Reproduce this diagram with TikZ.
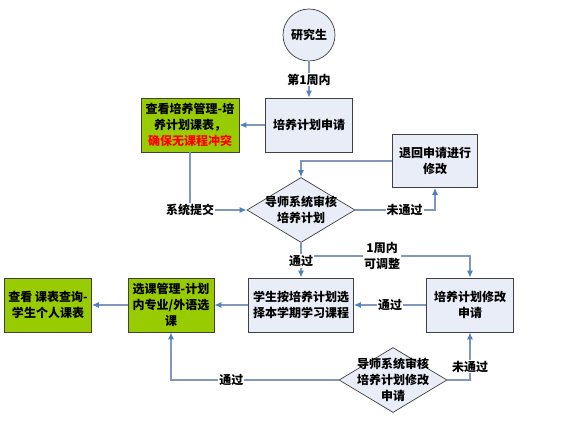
\documentclass[tikz,border=0pt]{standalone}
\usepackage{fontspec}
\setmainfont{Noto Sans CJK SC}
\usetikzlibrary{arrows.meta,shapes.geometric}

% colours taken from the flow chart
\definecolor{boxfill}{RGB}{233,237,247}
\definecolor{boxline}{RGB}{64,64,64}
\definecolor{flowline}{RGB}{128,152,190}
\definecolor{arrowblue}{RGB}{79,129,189}
\definecolor{greenfill}{RGB}{153,204,0}

\begin{document}
\begin{tikzpicture}[x=1pt, y=-1pt,
  every node/.style={font=\fontsize{12}{16}\selectfont\bfseries},
  flowbox/.style={draw=boxline, line width=0.9pt, fill=boxfill, align=center,
    minimum width=87pt, minimum height=54pt, inner sep=1pt},
  greenbox/.style={flowbox, fill=greenfill},
  decision/.style={diamond, draw=boxline, line width=0.7pt, fill=boxfill,
    minimum width=108pt, minimum height=65pt, inner sep=0pt},
  flow/.style={draw=flowline, line width=1.1pt,
    -{Latex[length=7pt, width=6pt, color=arrowblue]}},
  tag/.style={fill=white, inner sep=1pt, align=center}]
% Set the page size
\useasboundingbox (0,0) rectangle (569,430);

% Top part: apply for the plan
\node[circle, draw=boxline, line width=0.7pt, fill=boxfill, minimum size=52pt] (stu) at (309,35) {研究生};
\node[flowbox] (apply) at (309,125) {培养计划申请};
\node[greenbox, minimum width=98pt] (check) at (190,125) {查看培养管理-培\\养计划课表，\\\textcolor{red}{确保无课程冲突}};
\node[decision] (rev1) at (301,210) {};
\node[align=center] (rev1txt) at (rev1) {导师系统审核\\培养计划};
\node[flowbox, minimum width=85pt, minimum height=53pt] (back) at (435,161) {退回申请进行\\修改};

% Bottom part: choose the courses
\node[flowbox, minimum width=105pt] (choose) at (301,305) {学生按培养计划选\\择本学期学习课程};
\node[flowbox] (modify) at (470,305) {培养计划修改\\申请};
\node[greenbox, minimum width=86pt] (select) at (171,305) {选课管理-计划\\内专业/外语选\\课};
\node[greenbox] (view) at (48,305) {查看 课表查询-\\学生个人课表};
\node[decision] (rev2) at (393,380) {};
\node[align=center] (rev2txt) at (rev2) {导师系统审核\\培养计划修改\\申请};
\coordinate (split) at (301,256);

% Connectors
\draw[flow] (stu) -- node[tag]{第1周内} (apply);
\draw[flow] (apply) -- (check);
\draw[flow] (check) |- node[tag]{系统提交} (rev1);
\draw[flow] (rev1) -| node[tag, pos=0.31]{未通过} (back);
\draw[flow] (back) -| (rev1);
\draw[flow] (split) -| node[tag, pos=0.24]{1周内\\可调整} (modify);
\draw[flow] (rev1) -- node[tag, pos=0.52]{通过} (choose);
\draw[flow] (modify) -- node[tag]{通过} (choose);
\draw[flow] (choose) -- (select);
\draw[flow] (select) -- (view);
\draw[flow] (rev2) -| node[tag, pos=0.64]{未通过} (modify);
\draw[flow] (rev2) -| node[tag, pos=0.32]{通过} (select);
\end{tikzpicture}
\end{document}
